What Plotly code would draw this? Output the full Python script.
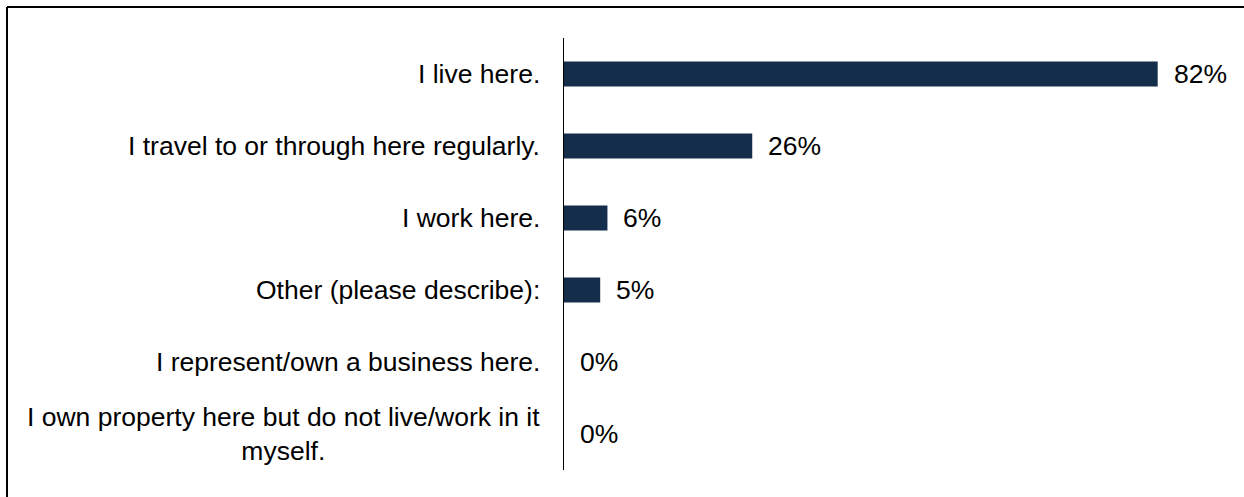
import plotly.graph_objects as go

categories = [
    "I live here.",
    "I travel to or through here regularly.",
    "I work here.",
    "Other (please describe):",
    "I represent/own a business here.",
    "I own property here but do not live/work in it<br>myself.",
]
values = [82, 26, 6, 5, 0, 0]

W, H = 1244, 497
ML, MR, MT, MB = 564, 20, 38, 27
PW, PH = W - ML - MR, H - MT - MB
BAR_COLOR = "#132D4B"
FONT = "Liberation Sans, Arial, sans-serif"
FSIZE = 26.5

fig = go.Figure(
    go.Bar(
        x=values,
        y=categories,
        orientation="h",
        marker=dict(color=BAR_COLOR, line=dict(width=0)),
        hoverinfo="skip",
    )
)

# category labels (centered multi-line text, right-aligned to the axis)
for cat in categories:
    fig.add_annotation(
        x=0, xref="paper", y=cat, yref="y",
        text=cat, showarrow=False, xanchor="right", yanchor="middle",
        align="center", xshift=-22,
        font=dict(family=FONT, size=FSIZE, color="#000000"),
    )

# value labels
for cat, v in zip(categories, values):
    fig.add_annotation(
        x=v, xref="x", y=cat, yref="y",
        text=f"{v}%", showarrow=False, xanchor="left", yanchor="middle",
        xshift=14,
        font=dict(family=FONT, size=FSIZE, color="#000000"),
    )

# outer frame (left and top edges)
fx = (7 - ML) / PW
fy = 1 + (MT - 7) / PH
fig.add_shape(type="line", xref="paper", yref="paper", x0=fx, x1=fx, y0=fy, y1=-1,
              line=dict(color="#000000", width=2))
fig.add_shape(type="line", xref="paper", yref="paper", x0=fx, x1=2, y0=fy, y1=fy,
              line=dict(color="#000000", width=2))

fig.update_layout(
    width=W, height=H,
    margin=dict(l=ML, r=MR, t=MT, b=MB),
    paper_bgcolor="white", plot_bgcolor="white",
    bargap=0.655,
    showlegend=False,
    xaxis=dict(range=[0, PW / 7.24], visible=False, fixedrange=True),
    yaxis=dict(
        autorange="reversed", showticklabels=False, ticks="",
        showline=True, linecolor="#000000", linewidth=1,
        showgrid=False, zeroline=False, fixedrange=True,
    ),
)

fig.write_html("out.html", config={"displayModeBar": False})
